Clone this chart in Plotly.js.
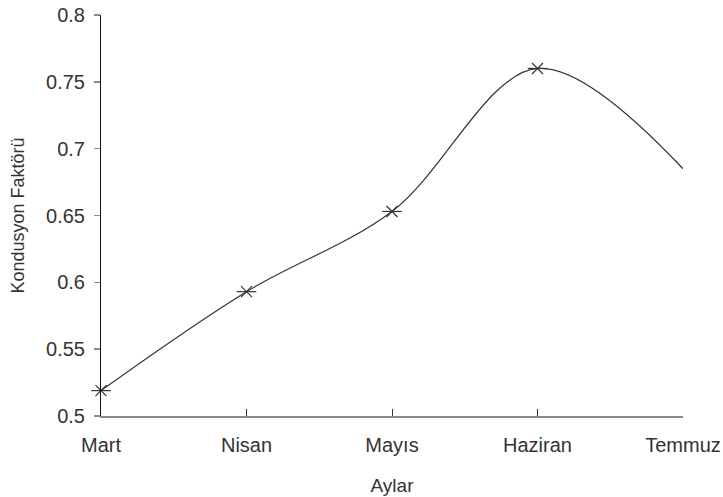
<!DOCTYPE html>
<html>
<head>
<meta charset="utf-8">
<script src="https://cdn.plot.ly/plotly-3.0.1.min.js"></script>
<style>html,body{margin:0;padding:0;background:#fff;}#chart{width:723px;height:497px;}</style>
</head>
<body>
<div id="chart"></div>
<script>
var months = ['Mart', 'Nisan', 'Mayıs', 'Haziran', 'Temmuz'];
var values = [0.519, 0.593, 0.653, 0.760, 0.685];
var markedMonths = months.slice(0, 4);
var markedValues = values.slice(0, 4);
var yTicks = [0.5, 0.55, 0.6, 0.65, 0.7, 0.75, 0.8];
var yTickLabels = ['0.5', '0.55', '0.6', '0.65', '0.7', '0.75', '0.8'];

var lineColor = '#333333';
var textColor = '#333333';
var fontFamily = 'Liberation Sans, Arial, sans-serif';
var traces = [
  {
    x: months, y: values, type: 'scatter', mode: 'lines',
    line: {shape: 'spline', smoothing: 1, color: lineColor, width: 1.2},
    hoverinfo: 'skip', showlegend: false
  },
  {
    x: markedMonths, y: markedValues, type: 'scatter', mode: 'markers', cliponaxis: false,
    marker: {symbol: 'x-thin-open', size: 11, color: lineColor, line: {color: lineColor, width: 1.2}},
    showlegend: false
  },
  {
    x: markedMonths, y: markedValues, type: 'scatter', mode: 'markers', cliponaxis: false,
    marker: {symbol: 'line-ew-open', size: 14, color: lineColor, line: {color: lineColor, width: 1.2}},
    showlegend: false
  }
];

var layout = {
  width: 723, height: 497,
  margin: {l: 101, r: 40, t: 15, b: 81, pad: 0},
  paper_bgcolor: '#ffffff', plot_bgcolor: '#ffffff',
  showlegend: false,
  xaxis: {
    type: 'category', range: [0, 4],
    showgrid: false, zeroline: false,
    showline: true, linecolor: '#8a8a8a', linewidth: 2,
    ticks: 'inside', ticklen: 7, tickcolor: '#333', tickwidth: 1,
    tickfont: {family: fontFamily, size: 20, color: textColor},
    ticklabelstandoff: 10,
    title: {text: 'Aylar', font: {family: fontFamily, size: 19, color: textColor}, standoff: 24}
  },
  yaxis: {
    range: [0.5, 0.8], tickvals: yTicks, ticktext: yTickLabels,
    showgrid: false, zeroline: false,
    showline: true, linecolor: '#111', linewidth: 1,
    ticks: 'outside', ticklen: 6, tickcolor: '#8a8a8a', tickwidth: 1.5,
    tickfont: {family: fontFamily, size: 20, color: textColor},
    ticklabelstandoff: 5,
    title: {text: 'Kondusyon Faktörü', font: {family: fontFamily, size: 18, color: textColor}, standoff: 16}
  }
};

Plotly.newPlot('chart', traces, layout, {displayModeBar: false, staticPlot: true});
</script>
</body>
</html>
